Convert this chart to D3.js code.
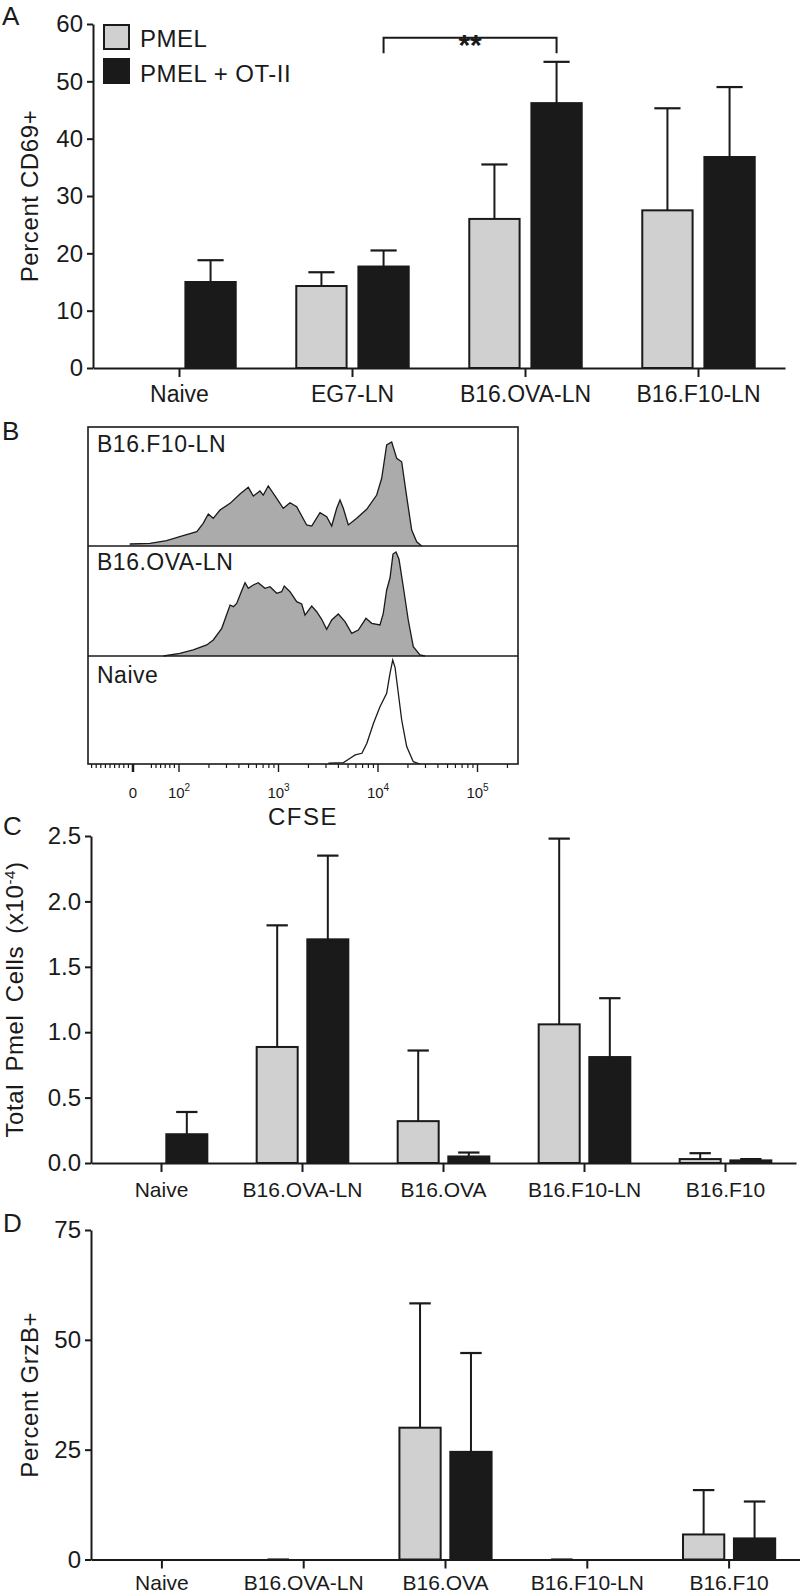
<!DOCTYPE html>
<html><head><meta charset="utf-8">
<script src="https://cdn.jsdelivr.net/npm/d3@7"></script>
<style>
body{margin:0;background:#fff}
svg{display:block;font-family:"Liberation Sans",Arial,Helvetica,sans-serif;}
</style>
</head><body>
<svg id="chart" width="800" height="1593"></svg>
<script>
// ---------------- DATA ----------------
const seriesNames = ["PMEL", "PMEL + OT-II"];

// Panel A: Percent CD69+
const catsA = ["Naive", "EG7-LN", "B16.OVA-LN", "B16.F10-LN"];
const pmelA = [null, 14.3, 26.0, 27.5];
const pmelErrA = [null, 2.4, 9.5, 17.8];
const otA = [15.0, 17.7, 46.2, 36.8];
const otErrA = [3.8, 2.8, 7.2, 12.2];
const ticksA = [0, 10, 20, 30, 40, 50, 60];

// Panel B: CFSE histograms  [CFSE intensity, % of mode]
const histF10 = [[-7,1.9],[37,2.6],[73,5.1],[110,9.9],[151,13.8],[175,21.8],[197,30.8],[221,26.6],[258,34.6],[326,41],[410,50],[497,56.4],[558,48],[651,52.9],[703,49],[789,57.7],[959,45.9],[1117,36.3],[1305,41.6],[1523,37.8],[1919,20.2],[2156,19.2],[2613,32],[3049,28.2],[3425,19.2],[3845,36.3],[4150,44.2],[4482,36.3],[5031,20.2],[6107,26.6],[7694,35.3],[9701,49],[10890,65.1],[12220,97.1],[13730,100],[15420,84.3],[17300,81],[19420,47.4],[21810,15.4],[24480,4.1],[27480,0]];
const histOVA = [[66,0],[102,2.6],[139,5.8],[190,10.6],[221,15.4],[269,26.6],[326,49],[352,47.4],[380,50.6],[417,60.3],[461,70.5],[497,65.1],[558,68.3],[626,70.5],[731,65.1],[822,66.6],[959,60.3],[1076,61.8],[1143,67.3],[1305,61.8],[1523,52.2],[1710,50],[1846,39.4],[2156,48],[2420,42.6],[2716,35.3],[3049,25.6],[3425,34.6],[3992,40.4],[4660,33],[5440,21.8],[6340,25],[7570,36.2],[8640,31.4],[10470,29.8],[11300,41],[12220,63.5],[13200,75],[14150,98],[15170,100],[16260,93],[17950,66.6],[20140,34.6],[22630,8.9],[26410,1],[29650,0]];
const histNaive = [[3177,0.7],[4500,1.3],[5250,5.5],[5900,8.7],[6890,10.3],[7730,20],[9010,39.1],[10470,55.1],[12220,68],[13200,87.2],[14060,100],[14830,93],[16000,68],[17300,42.3],[19420,16.7],[22630,2.2],[26410,0]];
const histLabels = ["B16.F10-LN", "B16.OVA-LN", "Naive"];
const cfseMajor = [100, 1000, 10000, 100000];
const cfseMajorLabels = ["2", "3", "4", "5"];

// Panel C: Total Pmel cells (x10^-4)
const catsC = ["Naive", "B16.OVA-LN", "B16.OVA", "B16.F10-LN", "B16.F10"];
const pmelC = [null, 0.887, 0.32, 1.06, 0.03];
const pmelErrC = [null, 0.93, 0.54, 1.42, 0.045];
const otC = [0.22, 1.71, 0.05, 0.81, 0.02];
const otErrC = [0.17, 0.64, 0.03, 0.45, 0.01];
const ticksC = [0, 0.5, 1.0, 1.5, 2.0, 2.5];

// Panel D: Percent GrzB+
const catsD = ["Naive", "B16.OVA-LN", "B16.OVA", "B16.F10-LN", "B16.F10"];
const pmelD = [null, 0, 30.0, 0, 5.7];
const pmelErrD = [null, 0, 28.3, 0, 10.1];
const otD = [null, null, 24.5, null, 4.8];
const otErrD = [null, null, 22.5, null, 8.4];
const ticksD = [0, 25, 50, 75];

// ---------------- DRAW ----------------
const INK = "#1a1a1a", LIGHT = "#d0d0d0", HIST = "#ababab";
const svg = d3.select("#chart");
svg.append("rect").attr("width", 800).attr("height", 1593).attr("fill", "#fff");

function panelLetter(t, x, y) {
  svg.append("text").attr("x", x).attr("y", y).attr("font-size", 26).attr("fill", INK).text(t);
}

function barPanel(cfg) {
  const g = svg.append("g");
  const x0 = d3.scaleBand().domain(cfg.cats).range(cfg.xRange).padding(0);
  const bw = x0.bandwidth();
  const x1 = d3.scaleBand().domain(seriesNames).range([bw * 0.175, bw * 0.825]).paddingInner(0.19);
  const y = d3.scaleLinear().domain(cfg.yDomain).range(cfg.yRange);

  const rows = [];
  cfg.cats.forEach((c, i) => {
    rows.push({cat: c, s: seriesNames[0], v: cfg.pmel[i], e: cfg.pmelErr[i]});
    rows.push({cat: c, s: seriesNames[1], v: cfg.ot[i], e: cfg.otErr[i]});
  });
  const data = rows.filter(d => d.v !== null);
  const capW = x1.bandwidth() * 0.52;

  g.selectAll("rect.bar").data(data.filter(d => d.v > 0)).join("rect")
    .attr("x", d => x0(d.cat) + x1(d.s))
    .attr("y", d => y(d.v))
    .attr("width", x1.bandwidth())
    .attr("height", d => y(0) - y(d.v))
    .attr("fill", d => d.s === seriesNames[0] ? LIGHT : INK)
    .attr("stroke", INK).attr("stroke-width", 2);

  const eb = data.filter(d => d.e !== null);
  const cx = d => x0(d.cat) + x1(d.s) + x1.bandwidth() / 2;
  g.selectAll("line.err").data(eb).join("line")
    .attr("x1", cx).attr("x2", cx)
    .attr("y1", d => y(d.v)).attr("y2", d => y(d.v + d.e))
    .attr("stroke", INK).attr("stroke-width", 2);
  g.selectAll("line.cap").data(eb).join("line")
    .attr("x1", d => cx(d) - capW / 2).attr("x2", d => cx(d) + capW / 2)
    .attr("y1", d => y(d.v + d.e)).attr("y2", d => y(d.v + d.e))
    .attr("stroke", INK).attr("stroke-width", 2.2);

  const ya = g.append("g").attr("transform", `translate(${cfg.xRange[0]},0)`)
    .call(d3.axisLeft(y).tickValues(cfg.ticks).tickFormat(cfg.fmt).tickSize(6).tickSizeOuter(0).tickPadding(4));
  const xa = g.append("g").attr("transform", `translate(0,${cfg.yRange[0]})`)
    .call(d3.axisBottom(x0).tickSize(9).tickSizeOuter(0).tickPadding(cfg.catPad));
  [ya, xa].forEach(a => {
    a.select(".domain").attr("stroke", INK).attr("stroke-width", 2);
    a.selectAll(".tick line").attr("stroke", INK).attr("stroke-width", 2);
    a.selectAll("text").attr("fill", INK).attr("font-family", null);
  });
  ya.selectAll("text").attr("font-size", 24);
  xa.selectAll("text").attr("font-size", cfg.catFont);

  const cy = (cfg.yRange[0] + cfg.yRange[1]) / 2;
  const lab = g.append("text").attr("transform", `translate(${cfg.labelX},${cy}) rotate(-90)`)
    .attr("text-anchor", "middle").attr("font-size", 24).attr("letter-spacing", 0.6)
    .attr("word-spacing", cfg.wordSpacing || 0).attr("fill", INK);
  cfg.yLabel.forEach(p => {
    const t = lab.append("tspan").text(p.t);
    if (p.sup) t.attr("font-size", 15).attr("baseline-shift", "super");
  });
  return {x0, x1, y, g};
}

// Panel A
panelLetter("A", 2, 25);
const pA = barPanel({cats: catsA, pmel: pmelA, pmelErr: pmelErrA, ot: otA, otErr: otErrA,
  xRange: [93, 785], yDomain: [0, 60], yRange: [368, 24], ticks: ticksA, fmt: d3.format("d"),
  catFont: 23, catPad: 9, labelX: 38, yLabel: [{t: "Percent CD69+"}]});

{
  const xl = pA.x0("EG7-LN") + pA.x1(seriesNames[1]) + pA.x1.bandwidth() / 2;
  const xr = pA.x0("B16.OVA-LN") + pA.x1(seriesNames[1]) + pA.x1.bandwidth() / 2;
  const yTop = pA.y(57.6), yEnd = pA.y(54.9);
  svg.append("path").attr("d", `M${xl},${yEnd}V${yTop}H${xr}V${yEnd}`)
    .attr("fill", "none").attr("stroke", INK).attr("stroke-width", 2);
  svg.append("text").attr("x", (xl + xr) / 2).attr("y", yTop + 17).attr("text-anchor", "middle")
    .attr("font-size", 30).attr("font-weight", "bold").attr("fill", INK).text("**");
}

// Legend
{
  const lg = svg.append("g");
  seriesNames.forEach((s, i) => {
    lg.append("rect").attr("x", 104).attr("y", 25 + i * 34).attr("width", 25).attr("height", 24)
      .attr("fill", i === 0 ? LIGHT : INK).attr("stroke", INK).attr("stroke-width", 2);
    lg.append("text").attr("x", 140).attr("y", 47 + i * 35).attr("font-size", 24)
      .attr("letter-spacing", 0.5).attr("fill", INK).text(s);
  });
}

// Panel B
panelLetter("B", 2, 440);
{
  const gB = svg.append("g");
  const box = {x: 88, y: 427, w: 430, h: 337};
  const xLog = d3.scaleLog().domain([100, 100000]).range([179, 477.5]);
  const xLin = d3.scaleLinear().domain([-100, 100]).range([87, 179]);
  const cx = v => v >= 100 ? xLog(v) : xLin(v);
  const hScale = d3.scaleLinear().domain([0, 100]).range([0, 104]);
  const bases = [546, 656, 764];
  const hists = [histF10, histOVA, histNaive];

  hists.forEach((h, i) => {
    const b = bases[i];
    const area = d3.area().x(d => cx(d[0])).y0(b).y1(d => b - hScale(d[1]));
    const line = d3.line().x(d => cx(d[0])).y(d => b - hScale(d[1]));
    gB.append("path").datum(h).attr("d", area).attr("fill", i < 2 ? HIST : "#fff");
    gB.append("path").datum(h).attr("d", line).attr("fill", "none").attr("stroke", INK).attr("stroke-width", 1.3);
    if (i < 2) gB.append("line").attr("x1", box.x).attr("x2", box.x + box.w).attr("y1", b).attr("y2", b)
      .attr("stroke", INK).attr("stroke-width", 1.3);
    gB.append("text").attr("x", 97).attr("y", [452, 570, 683][i]).attr("font-size", 23)
      .attr("letter-spacing", 0.5).attr("fill", INK).text(histLabels[i]);
  });
  gB.append("rect").attr("x", box.x).attr("y", box.y).attr("width", box.w).attr("height", box.h)
    .attr("fill", "none").attr("stroke", INK).attr("stroke-width", 1.6);

  const by = box.y + box.h;
  const minor = [];
  for (let k = 1; k <= 9; k++) minor.push(-10 * k);
  for (let k = 4; k <= 9; k++) minor.push(10 * k);
  [100, 1000, 10000, 100000].forEach(dec => { for (let k = 2; k <= 9; k++) if (dec * k <= 262144) minor.push(dec * k); });
  gB.selectAll("line.minor").data(minor).join("line")
    .attr("x1", d => cx(d)).attr("x2", d => cx(d)).attr("y1", by).attr("y2", by + 4)
    .attr("stroke", INK).attr("stroke-width", 1.2);
  gB.selectAll("line.major").data([0].concat(cfseMajor)).join("line")
    .attr("x1", d => cx(d)).attr("x2", d => cx(d)).attr("y1", by).attr("y2", by + 8)
    .attr("stroke", INK).attr("stroke-width", d => d === 0 ? 2.5 : 1.4);
  gB.append("text").attr("x", cx(0)).attr("y", 798).attr("text-anchor", "middle").attr("font-size", 15).attr("fill", INK).text("0");
  cfseMajor.forEach((v, i) => {
    const t = gB.append("text").attr("x", cx(v)).attr("y", 798).attr("text-anchor", "middle").attr("font-size", 15).attr("fill", INK);
    t.append("tspan").text("10");
    t.append("tspan").attr("font-size", 10).attr("dy", -7).text(cfseMajorLabels[i]);
  });
  gB.append("text").attr("x", box.x + box.w / 2).attr("y", 825).attr("text-anchor", "middle")
    .attr("font-size", 24).attr("letter-spacing", 1.5).attr("fill", INK).text("CFSE");
}

// Panel C
panelLetter("C", 3, 835);
barPanel({cats: catsC, pmel: pmelC, pmelErr: pmelErrC, ot: otC, otErr: otErrC,
  xRange: [91, 796], yDomain: [0, 2.5], yRange: [1163, 836], ticks: ticksC, fmt: d3.format(".1f"),
  catFont: 21, catPad: 10, labelX: 23, wordSpacing: 5,
  yLabel: [{t: "Total Pmel Cells (x10"}, {t: "-4", sup: true}, {t: ")"}]});

// Panel D
panelLetter("D", 3, 1232);
barPanel({cats: catsD, pmel: pmelD, pmelErr: pmelErrD, ot: otD, otErr: otErrD,
  xRange: [91, 800], yDomain: [0, 75], yRange: [1559.5, 1230], ticks: ticksD, fmt: d3.format("d"),
  catFont: 21, catPad: 7, labelX: 38, yLabel: [{t: "Percent GrzB+"}]});
</script>
</body></html>
